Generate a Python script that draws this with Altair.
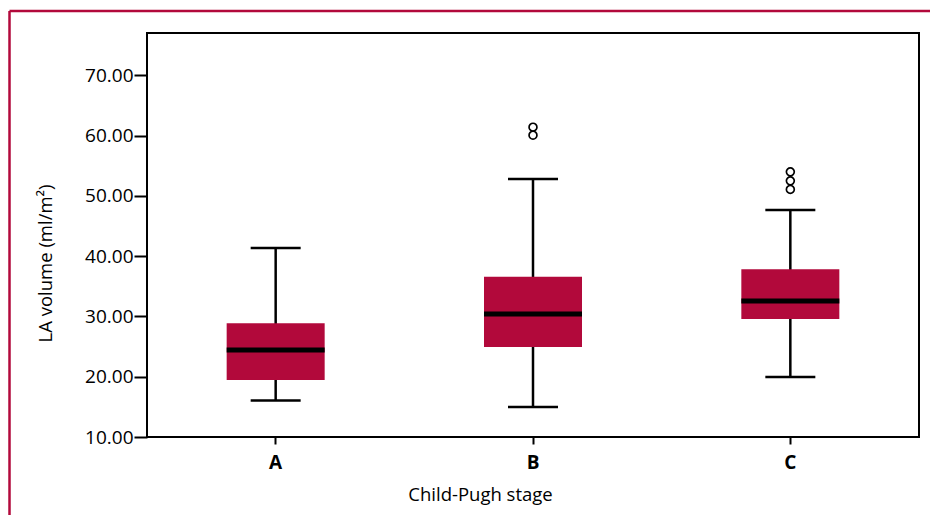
import altair as alt
import pandas as pd

# Box-plot statistics
stages = ["A", "B", "C"]
lower = [16.05, 14.97, 19.95]
q1 = [19.45, 24.92, 29.56]
median = [24.42, 30.39, 32.54]
q3 = [28.85, 36.57, 37.80]
upper = [41.33, 52.77, 47.63]

# Outliers
out_stage = ["B", "B", "C", "C", "C"]
out_value = [61.38, 60.05, 53.97, 52.48, 51.06]

y_ticks = [10, 20, 30, 40, 50, 60, 70]

crimson = "#B2093B"
font = "Open Sans"

stats = pd.DataFrame({"stage": stages, "lower": lower, "q1": q1,
                      "median": median, "q3": q3, "upper": upper})
outliers = pd.DataFrame({"stage": out_stage, "value": out_value})
frame_df = pd.DataFrame({"k": [0]})

x_enc = alt.X(
    "stage:N",
    scale=alt.Scale(domain=stages, paddingInner=0, paddingOuter=0),
    axis=alt.Axis(
        title="Child-Pugh stage", labelAngle=0, labelFontSize=19,
        labelFontWeight="bold", labelFont=font, labelColor="black",
        labelPadding=9, tickSize=7, tickWidth=2, tickColor="black",
        domain=False, grid=False, titleFont=font, titleFontSize=18.5,
        titleFontWeight="normal", titleColor="black",
        titleX=333, titleY=63, titleBaseline="alphabetic", titleAlign="center",
    ),
)
y_scale = alt.Scale(domain=[10, 77], nice=False, zero=False)
y_axis = alt.Axis(
    title="LA volume (ml/m²)", values=y_ticks, format=".2f",
    labelFontSize=19, labelFont=font, labelColor="black", labelPadding=1,
    tickSize=13, tickWidth=2, tickColor="black", domain=False, grid=False,
    titleFont=font, titleFontSize=18.5, titleFontWeight="normal",
    titleColor="black", titleAngle=270, titleX=-102, titleY=230,
    titleBaseline="middle", titleAlign="center",
)

base = alt.Chart(stats)

whisker = base.mark_rule(color="black", strokeWidth=2.5, opacity=1).encode(
    x=x_enc, y=alt.Y("lower:Q", scale=y_scale, axis=y_axis), y2="upper:Q"
)
cap_low = base.mark_tick(color="black", size=50, thickness=2.5, opacity=1).encode(
    x=x_enc, y=alt.Y("lower:Q", scale=y_scale, axis=y_axis)
)
cap_high = base.mark_tick(color="black", size=50, thickness=2.5, opacity=1).encode(
    x=x_enc, y=alt.Y("upper:Q", scale=y_scale, axis=y_axis)
)
box = base.mark_bar(size=98, color=crimson, opacity=1).encode(
    x=x_enc, y=alt.Y("q1:Q", scale=y_scale, axis=y_axis), y2="q3:Q"
)
med = base.mark_tick(color="black", size=98, thickness=5, opacity=1).encode(
    x=x_enc, y=alt.Y("median:Q", scale=y_scale, axis=y_axis)
)
pts = alt.Chart(outliers).mark_point(
    shape="circle", filled=False, size=62, strokeWidth=1.7, color="black", opacity=1
).encode(x=x_enc, y=alt.Y("value:Q", scale=y_scale, axis=y_axis))

frame_top = alt.Chart(frame_df).mark_rule(color=crimson, strokeWidth=2.5).encode(
    x=alt.value(-137.5), x2=alt.value(783), y=alt.value(-22), y2=alt.value(-22)
)
frame_left = alt.Chart(frame_df).mark_rule(color=crimson, strokeWidth=2.5).encode(
    x=alt.value(-137.5), x2=alt.value(-137.5), y=alt.value(-22), y2=alt.value(482)
)

chart = alt.layer(
    whisker, cap_low, cap_high, box, med, pts, frame_top, frame_left
).properties(
    width=772, height=404,
    autosize=alt.AutoSizeParams(type="none"),
    padding={"left": 139, "top": 25, "right": 11, "bottom": 78},
).configure(
    background="white",
    view=alt.ViewConfig(stroke="black", strokeWidth=2),
)

chart.save("out.html", embed_options={"renderer": "svg", "actions": False})
